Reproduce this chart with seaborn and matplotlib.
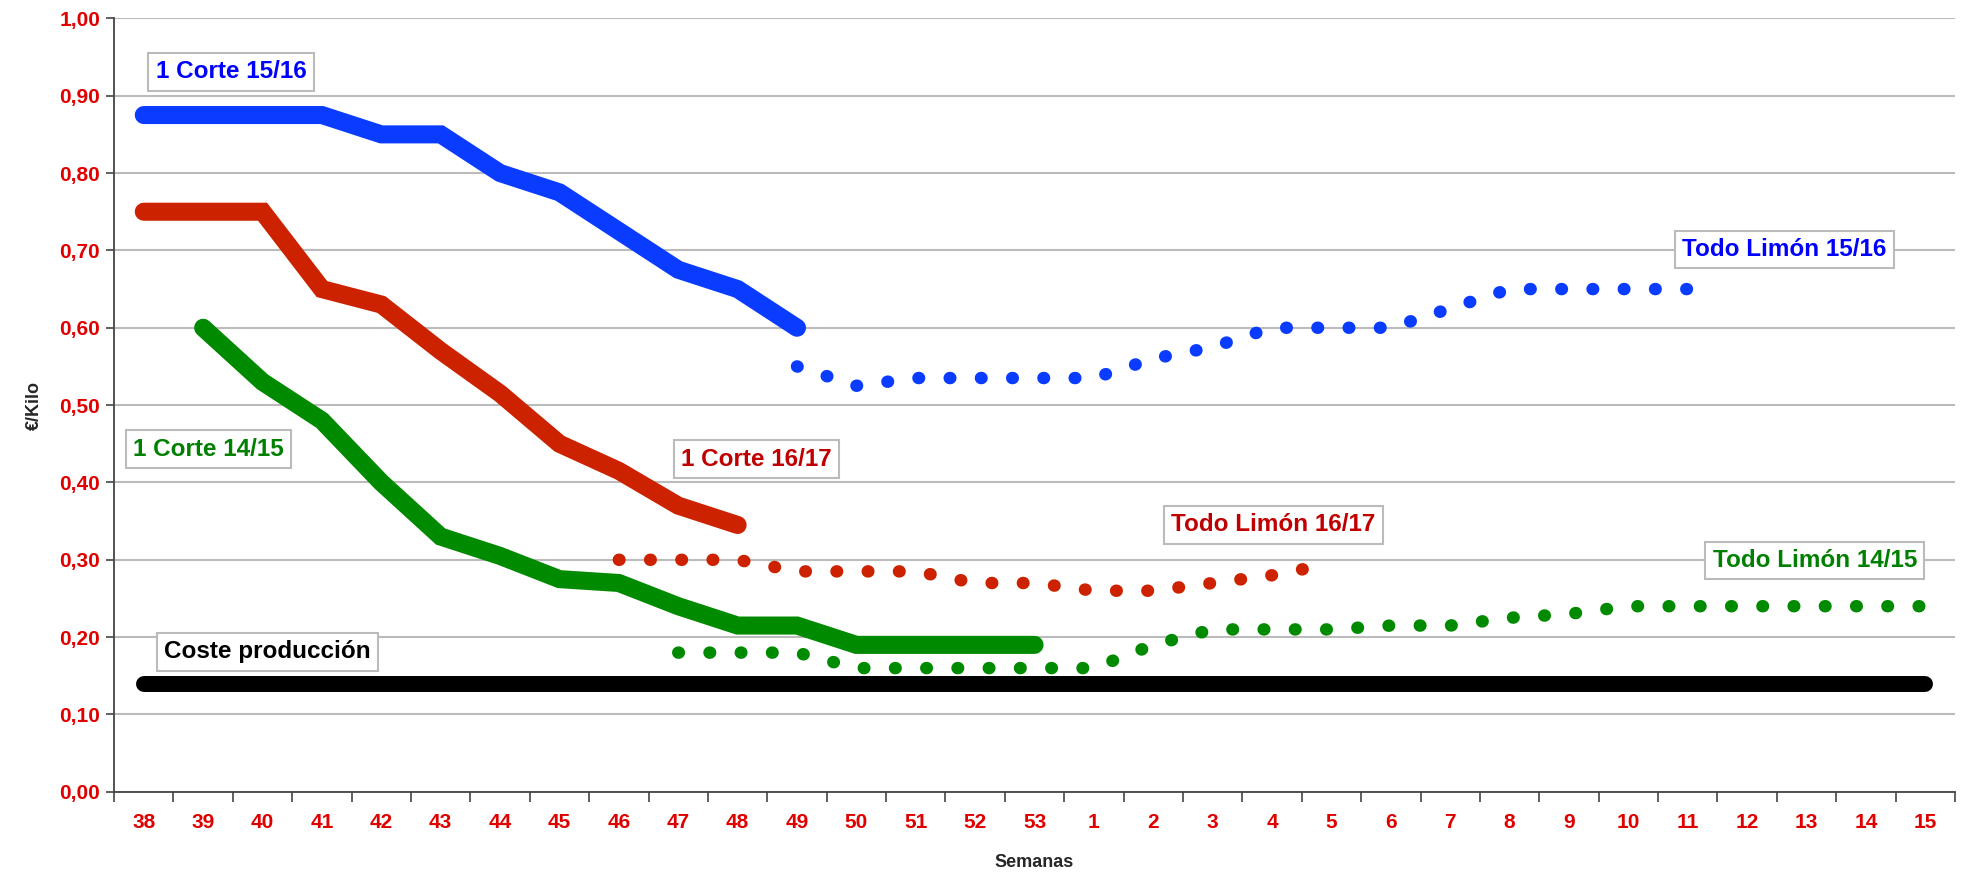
import numpy as np
import pandas as pd
import matplotlib
matplotlib.use("Agg")
import matplotlib.pyplot as plt
import seaborn as sns
from matplotlib.ticker import FixedLocator, FuncFormatter

sns.set_style("white")
plt.rcParams['font.family'] = ['Liberation Sans', 'DejaVu Sans']

# ---------------------------
# Data
# ---------------------------
weeks = [str(w) for w in range(38, 54)] + [str(w) for w in range(1, 16)]

corte_1516_weeks = ["38", "39", "40", "41", "42", "43", "44", "45", "46", "47", "48", "49"]
corte_1516 = [0.875, 0.875, 0.875, 0.875, 0.85, 0.85, 0.80, 0.775, 0.725, 0.675, 0.65, 0.60]

corte_1617_weeks = ["38", "39", "40", "41", "42", "43", "44", "45", "46", "47", "48"]
corte_1617 = [0.75, 0.75, 0.75, 0.65, 0.63, 0.57, 0.515, 0.45, 0.415, 0.37, 0.345]

corte_1415_weeks = ["39", "40", "41", "42", "43", "44", "45", "46", "47", "48", "49",
                    "50", "51", "52", "53"]
corte_1415 = [0.60, 0.53, 0.48, 0.40, 0.33, 0.305, 0.275, 0.27, 0.24, 0.215, 0.215,
              0.19, 0.19, 0.19, 0.19]

todo_1516_weeks = ["49", "50", "51", "52", "53", "1", "2", "3", "4", "5", "6", "7",
                   "8", "9", "10", "11"]
todo_1516 = [0.55, 0.525, 0.535, 0.535, 0.535, 0.535, 0.56, 0.575, 0.60, 0.60, 0.60,
             0.625, 0.65, 0.65, 0.65, 0.65]

todo_1617_weeks = ["46", "47", "48", "49", "50", "51", "52", "53", "1", "2", "3", "4", "5"]
todo_1617 = [0.30, 0.30, 0.30, 0.285, 0.285, 0.285, 0.27, 0.27, 0.26, 0.26, 0.27,
             0.28, 0.295]

todo_1415_weeks = ["47", "48", "49", "50", "51", "52", "53", "1", "2", "3", "4", "5",
                   "6", "7", "8", "9", "10", "11", "12", "13", "14", "15"]
todo_1415 = [0.18, 0.18, 0.18, 0.16, 0.16, 0.16, 0.16, 0.16, 0.19, 0.21, 0.21, 0.21,
             0.215, 0.215, 0.225, 0.23, 0.24, 0.24, 0.24, 0.24, 0.24, 0.24]

coste_weeks = weeks
coste = [0.14] * len(weeks)

y_ticks = [0.0, 0.1, 0.2, 0.3, 0.4, 0.5, 0.6, 0.7, 0.8, 0.9, 1.0]

BLUE = "#0A3CFF"
RED = "#CC2200"
GREEN = "#008A00"


def to_df(wk, vals):
    return pd.DataFrame({"pos": [weeks.index(w) for w in wk], "precio": vals})


# ---------------------------
# Plot
# ---------------------------
fig, ax = plt.subplots(figsize=(19.84, 8.74), dpi=100)
fig.subplots_adjust(left=0.0575, right=0.9854, top=0.979, bottom=0.094)

ax.yaxis.grid(True, color="#BBBBBB", linewidth=1.5)
ax.set_axisbelow(True)

solid_kw = dict(linewidth=13, solid_capstyle="round", solid_joinstyle="miter")
dot_kw = dict(linewidth=9, dash_capstyle="round")
dot_style = (0, (0.05, 2.45))

sns.lineplot(data=to_df(corte_1516_weeks, corte_1516), x="pos", y="precio", ax=ax,
             color=BLUE, **solid_kw)
sns.lineplot(data=to_df(corte_1617_weeks, corte_1617), x="pos", y="precio", ax=ax,
             color=RED, **solid_kw)
sns.lineplot(data=to_df(corte_1415_weeks, corte_1415), x="pos", y="precio", ax=ax,
             color=GREEN, **solid_kw)

for wk, vals, col in [(todo_1516_weeks, todo_1516, BLUE),
                      (todo_1617_weeks, todo_1617, RED),
                      (todo_1415_weeks, todo_1415, GREEN)]:
    sns.lineplot(data=to_df(wk, vals), x="pos", y="precio", ax=ax, color=col, **dot_kw)
    ax.lines[-1].set_linestyle(dot_style)

sns.lineplot(data=to_df(coste_weeks, coste), x="pos", y="precio", ax=ax,
             color="black", linewidth=11.5, solid_capstyle="round")

# ---------------------------
# Axes
# ---------------------------
ax.set_xlim(-0.5, len(weeks) - 0.5)
ax.set_ylim(0, 1.0)
ax.set_xticks(range(len(weeks)))
ax.set_xticklabels(weeks)
ax.xaxis.set_minor_locator(FixedLocator(np.arange(-0.5, len(weeks), 1)))
ax.tick_params(axis="x", which="major", length=0, pad=15, labelsize=15,
               labelcolor="#E00000")
ax.tick_params(axis="x", which="minor", length=7, width=1.2, color="#444444", direction="out",
               bottom=True)
ax.set_yticks(y_ticks)
ax.yaxis.set_major_formatter(FuncFormatter(lambda v, p: f"{v:.2f}".replace(".", ",")))
ax.tick_params(axis="y", length=6, width=1.2, color="#444444", direction="out", left=True,
               labelsize=15, labelcolor="#E00000", pad=4)
for lab in ax.get_xticklabels() + ax.get_yticklabels():
    lab.set_fontweight("bold")

for s in ["top", "right"]:
    ax.spines[s].set_visible(False)
for s in ["left", "bottom"]:
    ax.spines[s].set_color("#444444")
    ax.spines[s].set_linewidth(1.3)

ax.set_xlabel("Semanas", fontsize=13, fontweight="bold", labelpad=16)
ax.set_ylabel("€/Kilo", fontsize=13, fontweight="bold", labelpad=12)

# ---------------------------
# Labels
# ---------------------------
box = dict(boxstyle="square,pad=0.3", facecolor="white", edgecolor="#BBBBBB", linewidth=1.5)
labels = [
    ("1 Corte 15/16", 0.2, 0.931, "#0000FF"),
    ("Todo Limón 15/16", 25.9, 0.701, "#0000FF"),
    ("1 Corte 14/15", -0.18, 0.443, "#008000"),
    ("1 Corte 16/17", 9.05, 0.430, "#C00000"),
    ("Todo Limón 16/17", 17.3, 0.345, "#C00000"),
    ("Todo Limón 14/15", 26.42, 0.299, "#008000"),
    ("Coste producción", 0.34, 0.181, "black"),
]
for txt, x, y, col in labels:
    ax.text(x, y, txt, color=col, fontsize=17.5, fontweight="bold", ha="left", va="center",
            bbox=box)

plt.savefig("out.png", dpi=100)
